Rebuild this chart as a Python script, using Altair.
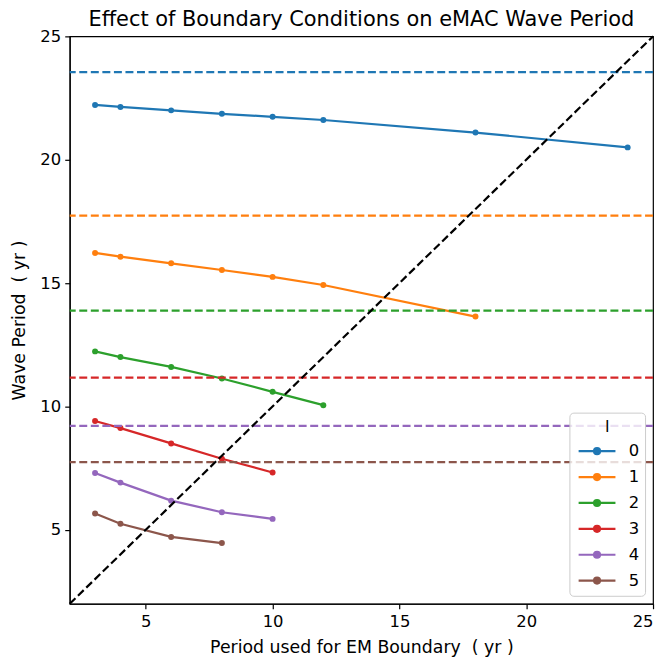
import altair as alt
import pandas as pd

# ---- data ----
ls = ["0", "1", "2", "3", "4", "5"]
xs = [
    [3, 4, 6, 8, 10, 12, 18, 24],
    [3, 4, 6, 8, 10, 12, 18],
    [3, 4, 6, 8, 10, 12],
    [3, 4, 6, 8, 10],
    [3, 4, 6, 8, 10],
    [3, 4, 6, 8],
]
ys = [
    [22.22, 22.14, 22.00, 21.86, 21.74, 21.61, 21.10, 20.50],
    [16.22, 16.07, 15.80, 15.53, 15.25, 14.92, 13.64],
    [12.23, 12.00, 11.60, 11.13, 10.59, 10.05],
    [9.41, 9.12, 8.50, 7.88, 7.32],
    [7.30, 6.91, 6.18, 5.71, 5.44],
    [5.66, 5.24, 4.71, 4.46],
]
h_periods = [23.55, 17.73, 13.88, 11.17, 9.21, 7.74]
diag = [2, 25]
ticks = [5, 10, 15, 20, 25]
colors = ["#1f77b4", "#ff7f0e", "#2ca02c", "#d62728", "#9467bd", "#8c564b"]

rows = []
for l, xv, yv in zip(ls, xs, ys):
    for a, b in zip(xv, yv):
        rows.append({"l": l, "x": a, "y": b})
df = pd.DataFrame(rows)
hdf = pd.DataFrame({"l": ls, "h": h_periods})
ddf = pd.DataFrame({"x": diag, "y": diag})

xsc = alt.Scale(domain=[2, 25], nice=False, zero=False)
ysc = alt.Scale(domain=[2, 25], nice=False, zero=False)
csc = alt.Scale(domain=ls, range=colors)

sym = ("M-1,0L6.4,0M3.3,0A0.6,0.6,0,1,1,2.1,0A0.6,0.6,0,1,1,3.3,0Z")

xax = alt.Axis(values=ticks, title="Period used for EM Boundary\u00a0 ( yr )", grid=False)
yax = alt.Axis(values=ticks, title="Wave Period\u00a0 ( yr )", grid=False)

legend = alt.Legend(
    title="l",
    orient="bottom-right",
    offset=8,
    symbolType=sym,
    symbolSize=100,
    symbolStrokeWidth=2.2,
    symbolFillColor="black",
    labelOffset=37,
    rowPadding=9,
    padding=6,
    titlePadding=8,
    labelFontSize=16.5,
    titleFontSize=16.5,
    titleFontWeight="normal",
    titleAnchor="middle",
    titleAlign="center",
    strokeColor="#cccccc",
    fillColor="rgba(255,255,255,0.8)",
    cornerRadius=4,
)

lines = alt.Chart(df).mark_line(strokeWidth=2.2).encode(
    x=alt.X("x:Q", scale=xsc, axis=xax),
    y=alt.Y("y:Q", scale=ysc, axis=yax),
    color=alt.Color("l:N", scale=csc, legend=legend),
)
points = alt.Chart(df).mark_point(filled=True, size=36, opacity=1).encode(
    x="x:Q",
    y="y:Q",
    color=alt.Color("l:N", scale=csc, legend=legend),
)
hlines = alt.Chart(hdf).mark_rule(strokeWidth=2.2, strokeDash=[8, 3.6]).encode(
    y="h:Q",
    color=alt.Color("l:N", scale=csc, legend=legend),
)
dline = alt.Chart(ddf).mark_line(strokeWidth=2.2, strokeDash=[8, 3.6], color="black").encode(
    x="x:Q", y="y:Q"
)

chart = (
    alt.layer(lines, points, hlines, dline)
    .properties(
        width=586,
        height=570,
        title=alt.TitleParams(
            "Effect of Boundary Conditions on eMAC Wave Period",
            fontSize=21,
            fontWeight="normal",
            offset=-2,
        ),
        padding={"left": 3, "top": 0, "right": 0, "bottom": 0},
    )
    .configure(font="DejaVu Sans")
    .configure_view(stroke="black", strokeWidth=1.2)
    .configure_axis(
        labelFontSize=16.5,
        titleFontSize=17.4,
        titleFontWeight="normal",
        labelColor="black",
        titleColor="black",
        domainColor="black",
        tickColor="black",
        tickSize=5,
        domainWidth=1.2,
        tickWidth=1.2,
    )
    .configure_axisY(titlePadding=11, labelPadding=4)
    .configure_axisX(titlePadding=8, labelPadding=5)
    .configure_title(color="black")
)

chart.save("out.html", embed_options={"renderer": "svg", "actions": False})
